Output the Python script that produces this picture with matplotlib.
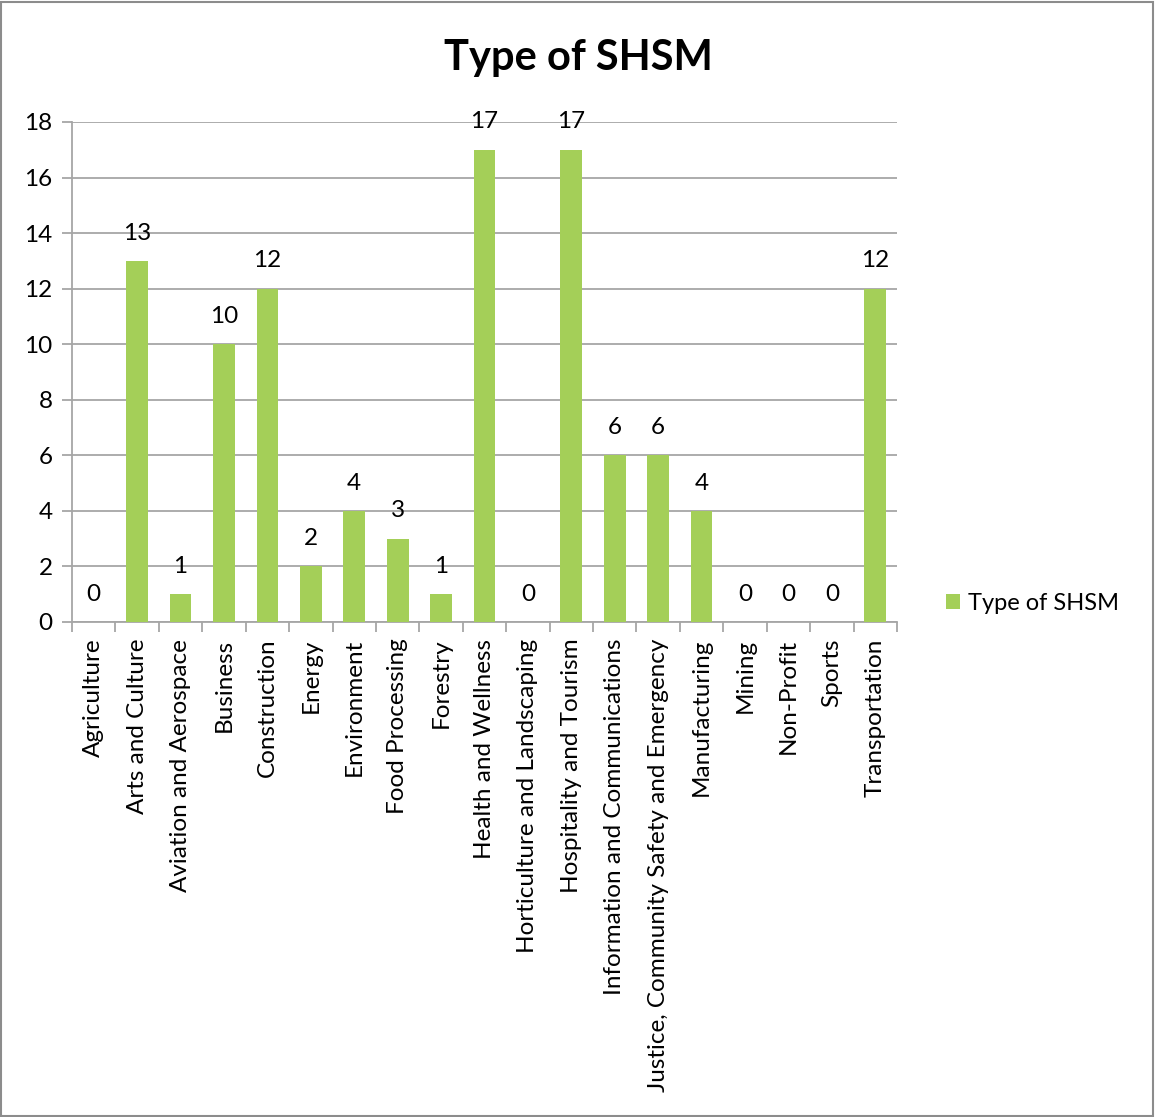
import matplotlib
matplotlib.use("Agg")
import matplotlib.pyplot as plt
from matplotlib.patches import Rectangle

categories = ["Agriculture", "Arts and Culture", "Aviation and Aerospace", "Business",
              "Construction", "Energy", "Environment", "Food Processing", "Forestry",
              "Health and Wellness", "Horticulture and Landscaping", "Hospitality and Tourism",
              "Information and Communications", "Justice, Community Safety and Emergency",
              "Manufacturing", "Mining", "Non-Profit", "Sports", "Transportation"]
values = [0, 13, 1, 10, 12, 2, 4, 3, 1, 17, 0, 17, 6, 6, 4, 0, 0, 0, 12]
series_name = "Type of SHSM"
yticks = [0, 2, 4, 6, 8, 10, 12, 14, 16, 18]

plt.rcParams['font.family'] = ['Lato', 'DejaVu Sans']
green = "#A4CF58"
grid_c = "#A6A6A6"
fs = 17.5

fig = plt.figure(figsize=(11.55, 11.17), dpi=100)
ax = fig.add_axes([72/1155, 1-622/1117, (897-72)/1155, 500/1117])

x = list(range(len(categories)))
bars = ax.bar(x, values, width=0.5, color=green, zorder=3, label=series_name)
for xi, v in zip(x, values):
    ax.annotate(str(v), (xi, v), xytext=(0, 20), textcoords="offset points",
                ha="center", va="center", fontsize=fs, color="black")

ax.set_xlim(-0.5, len(categories) - 0.5)
ax.set_ylim(0, 18)
ax.set_yticks(yticks)
ax.set_yticklabels([str(t) for t in yticks], fontsize=fs)
ax.yaxis.grid(True, color=grid_c, linewidth=1.3, zorder=0)
ax.tick_params(axis='y', length=7, width=1.3, color=grid_c, pad=7, direction='out')

ax.set_xticks([i - 0.5 for i in range(len(categories) + 1)])
ax.set_xticklabels([])
ax.set_xticks(x, minor=True)
ax.set_xticklabels(categories, minor=True, rotation=90, fontsize=fs)
ax.tick_params(axis='x', which='major', length=7, width=1.3, color=grid_c, direction='out')
ax.tick_params(axis='x', which='minor', length=0, pad=12)

for s in ['top', 'right']:
    ax.spines[s].set_visible(False)
for s in ['left', 'bottom']:
    ax.spines[s].set_color(grid_c)
    ax.spines[s].set_linewidth(1.3)

fig.text(578/1155, 1-58/1117, "Type of SHSM", ha="center", va="center",
         fontsize=30, fontweight="bold")

leg = fig.legend(handles=[bars], labels=[series_name], loc="center left",
                 bbox_to_anchor=(925/1155, 1-603/1117), frameon=False,
                 fontsize=17, handlelength=0.6, handleheight=0.6, handletextpad=0.3)

fig.patches.append(Rectangle((0.001, 0.001), 0.997, 0.997, transform=fig.transFigure,
                             fill=False, edgecolor="#8C8C8C", linewidth=1.5))

fig.savefig("out.png", dpi=100)
